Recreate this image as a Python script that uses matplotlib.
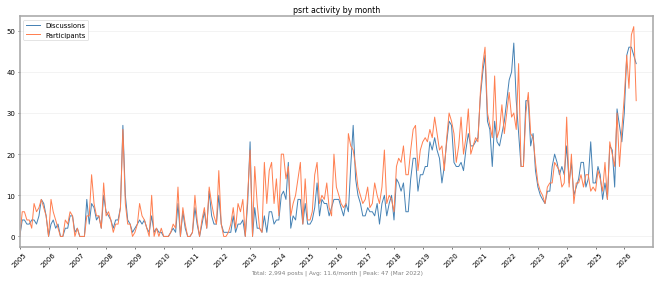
import numpy as np
import pandas as pd
import matplotlib
matplotlib.use("Agg")
import matplotlib.pyplot as plt
import matplotlib.dates as mdates

# monthly counts, Jan 2005 .. Jun 2026 (one row per year)
discussions = [
    0, 4, 4, 3, 3, 4, 4, 3, 5, 9, 8, 5,
    0, 3, 4, 2, 3, 0, 0, 2, 2, 5, 5, 1,
    2, 0, 0, 0, 9, 3, 8, 7, 4, 5, 2, 10,
    6, 5, 4, 2, 4, 4, 7, 27, 10, 4, 3, 1,
    2, 3, 4, 3, 4, 2, 1, 5, 1, 2, 1, 1,
    0, 0, 0, 1, 2, 1, 8, 0, 6, 2, 0, 0,
    1, 7, 3, 0, 3, 6, 2, 11, 5, 3, 3, 10,
    3, 1, 1, 1, 1, 5, 1, 3, 3, 4, 0, 8,
    23, 0, 7, 2, 2, 1, 5, 1, 6, 6, 3, 4,
    4, 10, 11, 9, 18, 2, 5, 4, 9, 9, 3, 8,
    3, 3, 4, 7, 13, 5, 9, 8, 8, 5, 7, 9,
    9, 9, 7, 5, 8, 6, 17, 27, 14, 10, 8, 5,
    5, 7, 6, 6, 5, 8, 3, 8, 10, 5, 8, 10,
    4, 14, 13, 11, 13, 6, 6, 14, 19, 19, 11, 15,
    15, 17, 17, 23, 21, 24, 21, 19, 13, 17, 23, 28,
    27, 18, 17, 17, 18, 16, 21, 25, 22, 22, 23, 24,
    34, 40, 44, 28, 26, 17, 28, 23, 22, 25, 28, 33,
    38, 40, 47, 33, 25, 17, 17, 33, 33, 22, 25, 16,
    12, 10, 9, 8, 11, 11, 17, 20, 18, 15, 17, 15,
    22, 13, 18, 10, 12, 14, 18, 18, 12, 14, 23, 13,
    13, 17, 15, 9, 13, 9, 22, 21, 12, 31, 27, 23,
    30, 44, 46, 46, 44, 42,
]
participants = [
    0, 6, 6, 4, 4, 2, 8, 6, 7, 9, 7, 5,
    0, 9, 6, 4, 2, 0, 0, 4, 3, 6, 5, 0,
    2, 0, 0, 0, 5, 5, 15, 8, 5, 5, 2, 13,
    5, 6, 4, 1, 3, 3, 7, 26, 8, 3, 3, 0,
    1, 3, 8, 5, 4, 2, 0, 10, 0, 2, 0, 2,
    0, 0, 0, 1, 3, 2, 12, 0, 7, 3, 0, 0,
    1, 10, 4, 0, 4, 7, 2, 12, 8, 5, 3, 16,
    3, 0, 0, 1, 3, 7, 2, 8, 6, 9, 0, 10,
    21, 0, 17, 8, 2, 1, 18, 8, 16, 18, 8, 14,
    5, 20, 20, 14, 17, 5, 8, 10, 14, 18, 3, 14,
    4, 4, 6, 15, 18, 8, 10, 9, 13, 7, 5, 20,
    12, 10, 8, 7, 8, 25, 22, 21, 17, 12, 10, 8,
    9, 12, 7, 8, 13, 10, 8, 12, 21, 8, 10, 9,
    6, 17, 19, 18, 22, 15, 15, 21, 26, 27, 16, 21,
    23, 24, 23, 26, 24, 29, 25, 21, 22, 16, 24, 30,
    28, 25, 18, 22, 29, 20, 24, 31, 20, 22, 24, 23,
    35, 42, 46, 30, 27, 24, 39, 24, 26, 32, 25, 30,
    35, 29, 30, 26, 42, 17, 17, 30, 35, 25, 24, 18,
    13, 11, 10, 8, 12, 13, 13, 18, 17, 16, 12, 13,
    29, 12, 20, 8, 13, 13, 15, 12, 15, 15, 11, 12,
    11, 16, 14, 11, 18, 9, 23, 20, 17, 30, 17, 26,
    34, 44, 36, 49, 51, 33,
]
months = pd.date_range("2005-01-01", periods=len(discussions), freq="MS")
footer = "Total: 2,994 posts | Avg: 11.6/month | Peak: 47 (Mar 2022)"

fig, ax = plt.subplots(figsize=(14, 6), dpi=660 / 14)
fig.subplots_adjust(left=0.030, right=0.989, top=0.940, bottom=0.124)

ax.plot(months, discussions, color="steelblue", lw=1.5, label="Discussions")
ax.plot(months, participants, color="coral", lw=1.5, label="Participants")

ax.set_title("psrt activity by month", fontsize=12)
ax.set_xlim(pd.Timestamp("2005-01-01"), pd.Timestamp("2026-12-28"))
ax.xaxis.set_major_locator(mdates.YearLocator())
ax.xaxis.set_major_formatter(mdates.DateFormatter("%Y"))
plt.setp(ax.get_xticklabels(), rotation=45)
ax.tick_params(labelsize=10.5)
ax.grid(axis="y", color="#eeeeee", lw=1)
ax.set_axisbelow(True)
for s in ax.spines.values():
    s.set_color("#aaaaaa")
    s.set_linewidth(2.5)
ax.legend(loc="upper left", fontsize=10.5)

fig.text(0.51, 0.035, footer, ha="center", va="center", fontsize=9, color="gray")

fig.savefig("out.png", dpi=660 / 14)
